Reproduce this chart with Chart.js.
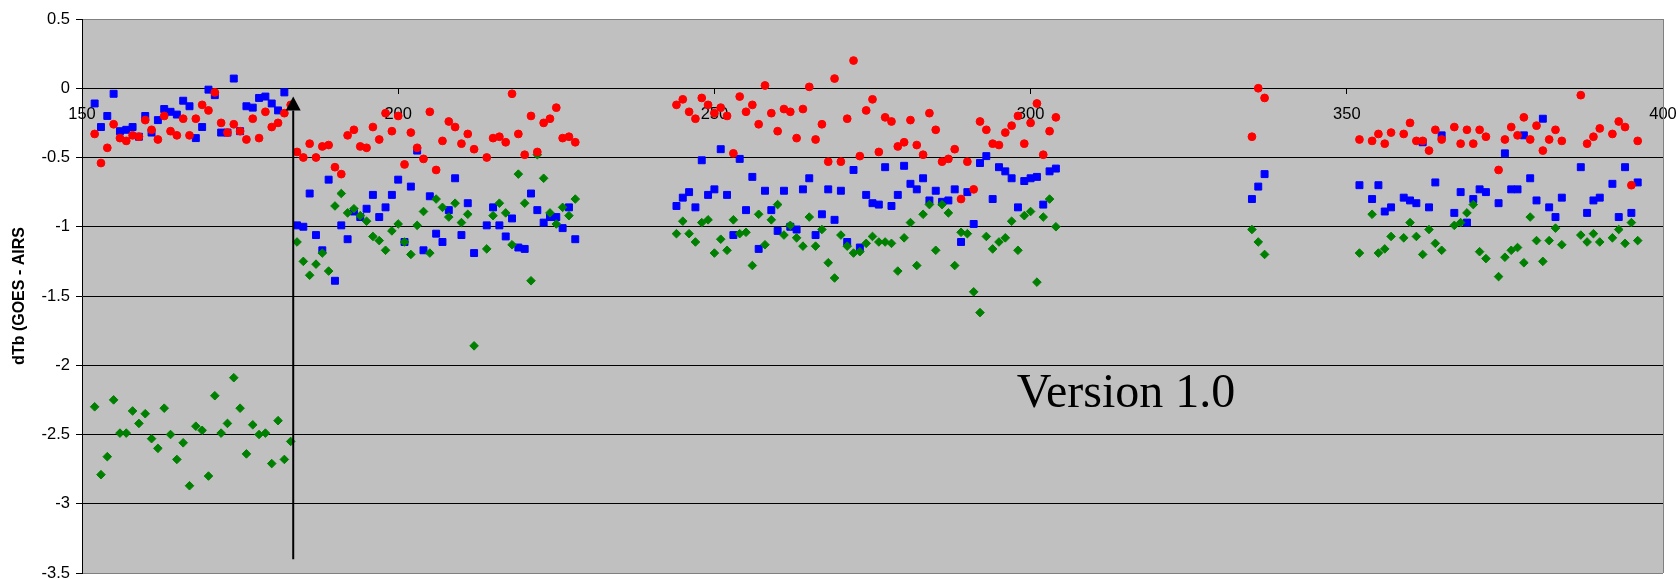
<!DOCTYPE html>
<html>
<head>
<meta charset="utf-8">
<style>
  html, body { margin: 0; padding: 0; background: #ffffff; }
  #wrap { width: 1678px; height: 579px; position: relative; }
</style>
<script src="https://cdn.jsdelivr.net/npm/chart.js@4.4.0/dist/chart.umd.min.js"></script>
</head>
<body>
<div id="wrap"><canvas id="chart" width="1678" height="579"></canvas></div>
<script>
// Day numbers of each observation period
const days1 = [152, 153, 154, 155, 156, 157, 158, 159, 160, 161, 162, 163, 164, 165, 166, 167,
               168, 169, 170, 171, 172, 173, 174, 175, 176, 177, 178, 179, 180, 181, 182, 183];
const days2 = [184, 185, 186, 187, 188, 189, 190, 191, 192, 193, 194, 195, 196, 197, 198, 199,
               200, 201, 202, 203, 204, 205, 206, 207, 208, 209, 210, 211, 212, 214, 215, 216,
               217, 218, 219, 220, 221, 222, 223, 224, 225, 226, 227, 228];
const days3 = [244, 245, 246, 247, 248, 249, 250, 251, 252, 253, 254, 255, 256, 257, 258, 259,
               260, 261, 262, 263, 264, 265, 266, 267, 268, 269, 270, 271, 272, 273, 274, 275,
               276, 277, 278, 279, 280, 281, 282, 283, 284, 285, 286, 287, 288, 289, 290, 291,
               292, 293, 294, 295, 296, 297, 298, 299, 300, 301, 302, 303, 304];
const days4 = [335, 336, 337];
const days5 = [352, 354, 355, 356, 357, 359, 360, 361, 362, 363, 364, 365, 367, 368, 369, 370,
               371, 372, 374, 375, 376, 377, 378, 379, 380, 381, 382, 383, 384, 387, 388, 389,
               390, 392, 393, 394, 395, 396];

// Red series (circles)
const red1 = [-0.33, -0.54, -0.43, -0.26, -0.36, -0.38, -0.34, -0.35, -0.23, -0.30, -0.37, -0.20, -0.31, -0.34, -0.22, -0.34,
              -0.22, -0.12, -0.16, -0.03, -0.25, -0.32, -0.26, -0.31, -0.37, -0.22, -0.36, -0.17, -0.28, -0.25, -0.18, -0.12];
const red2 = [-0.46, -0.50, -0.40, -0.50, -0.42, -0.41, -0.57, -0.62, -0.34, -0.30, -0.42, -0.43, -0.28, -0.37, -0.18, -0.31,
              -0.20, -0.55, -0.32, -0.43, -0.51, -0.17, -0.59, -0.38, -0.24, -0.28, -0.40, -0.33, -0.44, -0.50, -0.36, -0.35,
              -0.39, -0.04, -0.33, -0.48, -0.20, -0.46, -0.25, -0.22, -0.14, -0.36, -0.35, -0.39];
const red3 = [-0.12, -0.08, -0.17, -0.22, -0.07, -0.12, -0.18, -0.14, -0.20, -0.47, -0.06, -0.17, -0.12, -0.26, 0.02, -0.18,
              -0.31, -0.15, -0.17, -0.36, -0.15, 0.01, -0.37, -0.26, -0.53, 0.07, -0.53, -0.22, 0.20, -0.49, -0.16, -0.08,
              -0.46, -0.21, -0.24, -0.42, -0.39, -0.23, -0.41, -0.48, -0.18, -0.30, -0.53, -0.51, -0.44, -0.80, -0.53, -0.73,
              -0.24, -0.30, -0.40, -0.41, -0.32, -0.27, -0.20, -0.40, -0.25, -0.11, -0.48, -0.31, -0.21];
const red4 = [-0.35, 0.00, -0.07];
const red5 = [-0.37, -0.38, -0.33, -0.40, -0.32, -0.33, -0.25, -0.38, -0.38, -0.45, -0.30, -0.37, -0.28, -0.40, -0.30, -0.40,
              -0.30, -0.35, -0.59, -0.37, -0.28, -0.34, -0.21, -0.37, -0.27, -0.45, -0.37, -0.30, -0.38, -0.05, -0.40, -0.35,
              -0.29, -0.33, -0.24, -0.28, -0.70, -0.38];

// Blue series (squares)
const blue1 = [-0.11, -0.28, -0.20, -0.04, -0.31, -0.30, -0.28, -0.35, -0.20, -0.32, -0.23, -0.15, -0.17, -0.19, -0.09, -0.13,
               -0.36, -0.28, -0.01, -0.05, -0.32, -0.32, 0.07, -0.31, -0.13, -0.14, -0.07, -0.06, -0.11, -0.16, -0.03, null];
const blue2 = [-0.99, -1.00, -0.76, -1.06, -1.17, -0.66, -1.39, -0.99, -1.09, -0.89, -0.93, -0.87, -0.77, -0.93, -0.86, -0.77,
               -0.66, -1.11, -0.71, -0.45, -1.17, -0.78, -1.05, -1.11, -0.88, -0.65, -1.06, -0.83, -1.19, -0.99, -0.86, -0.99,
               -1.07, -0.94, -1.15, -1.16, -0.76, -0.88, -0.97, -0.93, -0.93, -1.01, -0.86, -1.09];
const blue3 = [-0.85, -0.79, -0.75, -0.86, -0.52, -0.77, -0.73, -0.44, -0.77, -1.06, -0.51, -0.88, -0.64, -1.16, -0.74, -0.88,
               -1.03, -0.74, -1.00, -1.02, -0.73, -0.65, -1.06, -0.91, -0.73, -0.95, -0.74, -1.11, -0.59, -1.15, -0.77, -0.83,
               -0.84, -0.57, -0.85, -0.77, -0.56, -0.69, -0.73, -0.65, -0.81, -0.74, -0.82, -0.81, -0.73, -1.11, -0.75, -0.98,
               -0.54, -0.49, -0.80, -0.57, -0.60, -0.65, -0.86, -0.67, -0.65, -0.64, -0.84, -0.60, -0.58];
const blue4 = [-0.80, -0.71, -0.62];
const blue5 = [-0.70, -0.80, -0.70, -0.89, -0.86, -0.79, -0.81, -0.83, -0.39, -0.86, -0.68, -0.34, -0.90, -0.75, -0.97, -0.80,
               -0.73, -0.75, -0.83, -0.47, -0.73, -0.73, -0.34, -0.65, -0.81, -0.22, -0.86, -0.93, -0.79, -0.57, -0.90, -0.81,
               -0.79, -0.69, -0.93, -0.57, -0.90, -0.68];

// Green series (diamonds)
const green1 = [-2.30, -2.79, -2.66, -2.25, -2.49, -2.49, -2.33, -2.42, -2.35, -2.53, -2.60, -2.31, -2.50, -2.68, -2.56, -2.87,
                -2.44, -2.47, -2.80, -2.22, -2.49, -2.42, -2.09, -2.31, -2.64, -2.43, -2.50, -2.49, -2.71, -2.40, -2.68, -2.55];
const green2 = [-1.11, -1.25, -1.35, -1.27, -1.19, -1.32, -0.85, -0.76, -0.90, -0.87, -0.92, -0.96, -1.07, -1.10, -1.17, -1.03,
                -0.98, -1.11, -1.20, -0.99, -0.89, -1.19, -0.80, -0.86, -0.93, -0.83, -0.97, -0.91, -1.86, -1.16, -0.92, -0.83,
                -0.90, -1.13, -0.62, -0.83, -1.39, -0.48, -0.65, -0.90, -0.98, -0.86, -0.92, -0.80];
const green3 = [-1.05, -0.96, -1.05, -1.11, -0.97, -0.95, -1.19, -1.09, -1.17, -0.95, -1.05, -1.04, -1.28, -0.91, -1.13, -0.95,
                -0.84, -1.06, -0.99, -1.08, -1.14, -0.93, -1.14, -1.02, -1.26, -1.37, -1.06, -1.14, -1.19, -1.18, -1.12, -1.07,
                -1.11, -1.11, -1.12, -1.32, -1.08, -0.97, -1.28, -0.91, -0.84, -1.17, -0.84, -0.90, -1.28, -1.04, -1.05, -1.47,
                -1.62, -1.07, -1.16, -1.11, -1.08, -0.96, -1.17, -0.92, -0.89, -1.40, -0.93, -0.80, -1.00];
const green4 = [-1.02, -1.11, -1.20];
const green5 = [-1.19, -0.91, -1.19, -1.16, -1.07, -1.08, -0.97, -1.07, -1.20, -1.02, -1.12, -1.17, -0.99, -0.97, -0.90, -0.84,
                -1.18, -1.23, -1.36, -1.22, -1.17, -1.15, -1.26, -0.93, -1.10, -1.25, -1.10, -1.01, -1.13, -1.06, -1.11, -1.05,
                -1.11, -1.08, -1.02, -1.12, -0.97, -1.10];

// Axis ticks
const xTicks = [150, 200, 250, 300, 350, 400];
const yTicks = [0.5, 0, -0.5, -1, -1.5, -2, -2.5, -3, -3.5];

// Marker showing the version change
const versionDay = 183.4;
const arrowFrom = -3.4;
const arrowTip = -0.06;
const noteText = 'Version 1.0';
const noteAt = [297.8, -2.30];

const allDays = [days1, days2, days3, days4, days5];
function toPoints(parts) {
  const pts = [];
  parts.forEach((vals, k) => {
    vals.forEach((v, i) => { if (v !== null) pts.push({ x: allDays[k][i], y: v }); });
  });
  return pts;
}

const SANS = '"Liberation Sans", Arial, sans-serif';
const SERIF = '"Liberation Serif", "Times New Roman", serif';

const plotBackground = {
  id: 'plotBackground',
  beforeDraw(chart) {
    const { ctx, chartArea: a } = chart;
    ctx.save();
    ctx.fillStyle = '#C0C0C0';
    ctx.fillRect(a.left, a.top, a.right - a.left, a.bottom - a.top);
    ctx.restore();
  },
  afterDraw(chart) {
    const { ctx, chartArea: a } = chart;
    ctx.save();
    ctx.strokeStyle = '#808080';
    ctx.lineWidth = 1;
    ctx.beginPath();
    ctx.moveTo(Math.round(a.right) + 0.5, a.top);
    ctx.lineTo(Math.round(a.right) + 0.5, a.bottom);
    ctx.stroke();
    ctx.restore();
  }
};

const versionMarker = {
  id: 'versionMarker',
  afterDatasetsDraw(chart) {
    const { ctx, scales: { x, y } } = chart;
    const px = x.getPixelForValue(versionDay);
    const yTip = y.getPixelForValue(arrowTip);
    const yBase = yTip + 14;
    ctx.save();
    ctx.strokeStyle = '#000';
    ctx.fillStyle = '#000';
    ctx.lineWidth = 2;
    ctx.beginPath();
    ctx.moveTo(px, y.getPixelForValue(arrowFrom));
    ctx.lineTo(px, yBase);
    ctx.stroke();
    ctx.beginPath();
    ctx.moveTo(px, yTip);
    ctx.lineTo(px - 7.5, yBase);
    ctx.lineTo(px + 7.5, yBase);
    ctx.closePath();
    ctx.fill();
    ctx.font = '48px ' + SERIF;
    ctx.textAlign = 'left';
    ctx.textBaseline = 'alphabetic';
    ctx.fillText(noteText, x.getPixelForValue(noteAt[0]), y.getPixelForValue(noteAt[1]));
    ctx.restore();
  }
};

new Chart(document.getElementById('chart'), {
  type: 'scatter',
  data: {
    datasets: [
      {
        label: 'red', data: toPoints([red1, red2, red3, red4, red5]),
        pointStyle: 'circle', pointRadius: 3.9, pointBorderWidth: 1,
        backgroundColor: '#FF0000', borderColor: '#FF0000'
      },
      {
        label: 'green', data: toPoints([green1, green2, green3, green4, green5]),
        pointStyle: 'rectRot', pointRadius: 4.3, pointBorderWidth: 1,
        backgroundColor: '#008000', borderColor: '#008000'
      },
      {
        label: 'blue', data: toPoints([blue1, blue2, blue3, blue4, blue5]),
        pointStyle: 'rect', pointRadius: 4.9, pointBorderWidth: 1,
        backgroundColor: '#0000FF', borderColor: '#0000FF'
      }
    ]
  },
  options: {
    responsive: false,
    animation: false,
    devicePixelRatio: 1,
    layout: { padding: { left: 0, right: 15, top: 19, bottom: 6 } },
    plugins: { legend: { display: false }, tooltip: { enabled: false } },
    elements: { point: { hoverRadius: 4 } },
    scales: {
      x: {
        type: 'linear',
        position: { y: 0 },
        min: xTicks[0], max: xTicks[xTicks.length - 1],
        afterBuildTicks: s => { s.ticks = xTicks.map(v => ({ value: v })); },
        afterFit: s => { s.height = 0; s.paddingLeft = 0; s.paddingRight = 0; },
        ticks: { color: '#000', font: { family: SANS, size: 16.5 }, padding: 11, maxRotation: 0, autoSkip: false,
                 callback: v => String(v) },
        grid: { drawOnChartArea: false, drawTicks: true, tickLength: 5, color: '#000' },
        border: { display: true, color: '#000', width: 1 }
      },
      y: {
        type: 'linear',
        min: yTicks[yTicks.length - 1], max: yTicks[0],
        afterBuildTicks: s => { s.ticks = yTicks.map(v => ({ value: v })); },
        afterFit: s => { s.width = 82; s.paddingTop = 0; s.paddingBottom = 0; },
        ticks: { color: '#000', font: { family: SANS, size: 16.5 }, padding: 6, callback: v => String(v) },
        grid: {
          color: c => (c.tick && (c.tick.value === yTicks[0] || c.tick.value === yTicks[yTicks.length - 1])) ? '#808080' : '#000',
          tickColor: '#000', tickLength: 6, lineWidth: 1
        },
        border: { display: true, color: '#000', width: 1 },
        title: {
          display: true, text: 'dTb (GOES - AIRS', color: '#000',
          font: { family: SANS, size: 16, weight: 'bold' },
          padding: { top: 10, bottom: 0 }
        }
      }
    }
  },
  plugins: [plotBackground, versionMarker]
});
</script>
</body>
</html>
